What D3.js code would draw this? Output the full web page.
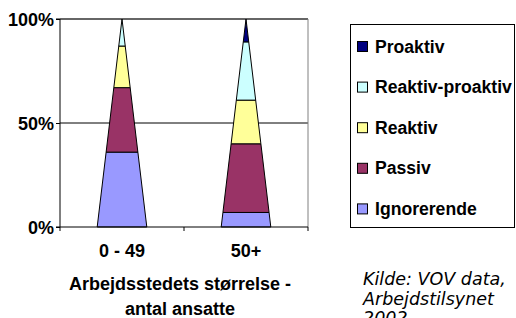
<!DOCTYPE html>
<html>
<head>
<meta charset="utf-8">
<script src="https://cdn.jsdelivr.net/npm/d3@7"></script>
<style>
  body { margin: 0; background: #fff; }
  text { font-family: "Liberation Sans", Arial, sans-serif; font-weight: bold; fill: #000; }
  .src { font-family: "DejaVu Sans", Verdana, sans-serif; font-weight: normal; font-style: italic; }
</style>
</head>
<body>
<script>
// categories and stacked shares (percent), bottom to top
const categories = ['0 - 49', '50+'];
const seriesNames = ['Ignorerende', 'Passiv', 'Reaktiv', 'Reaktiv-proaktiv', 'Proaktiv'];
const ignorerende = [36, 7];
const passiv = [31, 33];
const reaktiv = [20, 21];
const reaktivProaktiv = [13, 28];
const proaktiv = [0, 11];
const colors = ['#9999FF', '#993366', '#FFFF99', '#CCFFFF', '#000080'];
const yTicks = [0, 50, 100];

const width = 516, height = 318;
const plot = {left: 60, right: 308, top: 19, bottom: 227};

const svg = d3.select('body').append('svg')
  .attr('width', width)
  .attr('height', height);

const x = d3.scaleBand()
  .domain(categories)
  .range([plot.left, plot.right])
  .paddingInner(0.6)
  .paddingOuter(0.3);
const y = d3.scaleLinear().domain([0, 100]).range([plot.bottom, plot.top]);

// gridlines and plot border
svg.append('g')
  .selectAll('line')
  .data([50, 100])
  .enter().append('line')
    .attr('x1', plot.left).attr('x2', plot.right)
    .attr('y1', d => y(d)).attr('y2', d => y(d))
    .style('stroke', d => d === 100 ? '#333' : '#000')
    .style('stroke-width', d => d === 100 ? 1.5 : 1);
svg.append('line')
  .attr('x1', plot.right).attr('x2', plot.right)
  .attr('y1', plot.top).attr('y2', plot.bottom)
  .style('stroke', '#808080');

// stacked pyramids
const stack = d3.stack().keys(d3.range(seriesNames.length))
  .value((d, k) => d[k]);
const rows = categories.map((c, i) => [ignorerende[i], passiv[i], reaktiv[i], reaktivProaktiv[i], proaktiv[i]]);
const layers = stack(rows);

const hw = x.bandwidth() / 2;
const piece = (cat, s) => {
  const cx = x(cat) + hw;
  const w0 = hw * (1 - s[0] / 100), w1 = hw * (1 - s[1] / 100);
  return [[cx - w0, y(s[0])], [cx + w0, y(s[0])], [cx + w1, y(s[1])], [cx - w1, y(s[1])]];
};

layers.forEach((layer, k) => {
  svg.append('g')
    .selectAll('polygon')
    .data(layer.filter(s => s[1] > s[0]).map(s => ({cat: categories[rows.indexOf(s.data)], s})))
    .enter().append('polygon')
      .attr('points', d => piece(d.cat, d.s).map(p => p.join(',')).join(' '))
      .style('fill', colors[k])
      .style('stroke', '#000')
      .style('stroke-width', 1)
      .style('stroke-linejoin', 'round');
});

// y axis
const yAxis = svg.append('g')
  .attr('transform', `translate(${plot.left},0)`)
  .call(d3.axisLeft(y).tickValues(yTicks).tickFormat(d => d + '%').tickSize(4).tickPadding(2));
yAxis.select('.domain').attr('d', `M-4,${plot.top}H0V${plot.bottom}H-4`);
yAxis.selectAll('text').style('font-size', '18px').attr('dy', '0.34em');

// x axis with ticks between categories
svg.append('line')
  .attr('x1', plot.left).attr('x2', plot.right)
  .attr('y1', plot.bottom).attr('y2', plot.bottom)
  .style('stroke', '#000');
const bounds = [plot.left, (x(categories[0]) + x(categories[1]) + x.bandwidth()) / 2, plot.right];
svg.append('g')
  .selectAll('line')
  .data(bounds)
  .enter().append('line')
    .attr('x1', d => d).attr('x2', d => d)
    .attr('y1', plot.bottom).attr('y2', plot.bottom + 4)
    .style('stroke', '#000');
yAxis.selectAll('.tick line').style('stroke', '#000');

svg.append('g')
  .selectAll('text')
  .data(categories)
  .enter().append('text')
    .attr('x', d => x(d) + hw)
    .attr('y', 257)
    .attr('text-anchor', 'middle')
    .style('font-size', '18px')
    .text(d => d);

// axis title
svg.append('text')
  .attr('x', 180).attr('y', 290)
  .attr('text-anchor', 'middle')
  .style('font-size', '18px')
  .text('Arbejdsstedets størrelse -');
svg.append('text')
  .attr('x', 180).attr('y', 315)
  .attr('text-anchor', 'middle')
  .style('font-size', '18px')
  .text('antal ansatte');

// legend (top to bottom reversed order)
svg.append('rect')
  .attr('x', 350.5).attr('y', 24.5)
  .attr('width', 164).attr('height', 203)
  .style('fill', '#fff')
  .style('stroke', '#000');
const legendOrder = d3.range(seriesNames.length).reverse();
const leg = svg.append('g')
  .selectAll('g')
  .data(legendOrder)
  .enter().append('g')
    .attr('transform', (d, i) => `translate(357,${41 + i * 40.6})`);
leg.append('rect')
  .attr('x', 0.5).attr('y', 0.5)
  .attr('width', 10).attr('height', 10)
  .style('fill', d => colors[d])
  .style('stroke', '#000');
leg.append('text')
  .attr('x', 18).attr('y', 11.5)
  .style('font-size', '17.6px')
  .text(d => seriesNames[d]);

// source note
const src = svg.append('text')
  .attr('class', 'src')
  .attr('x', 363).attr('y', 285)
  .style('font-size', '17.5px');
['Kilde: VOV data,', 'Arbejdstilsynet', '2002'].forEach((t, i) => {
  src.append('tspan').attr('x', 363).attr('dy', i ? 19.5 : 0).text(t);
});
</script>
</body>
</html>
